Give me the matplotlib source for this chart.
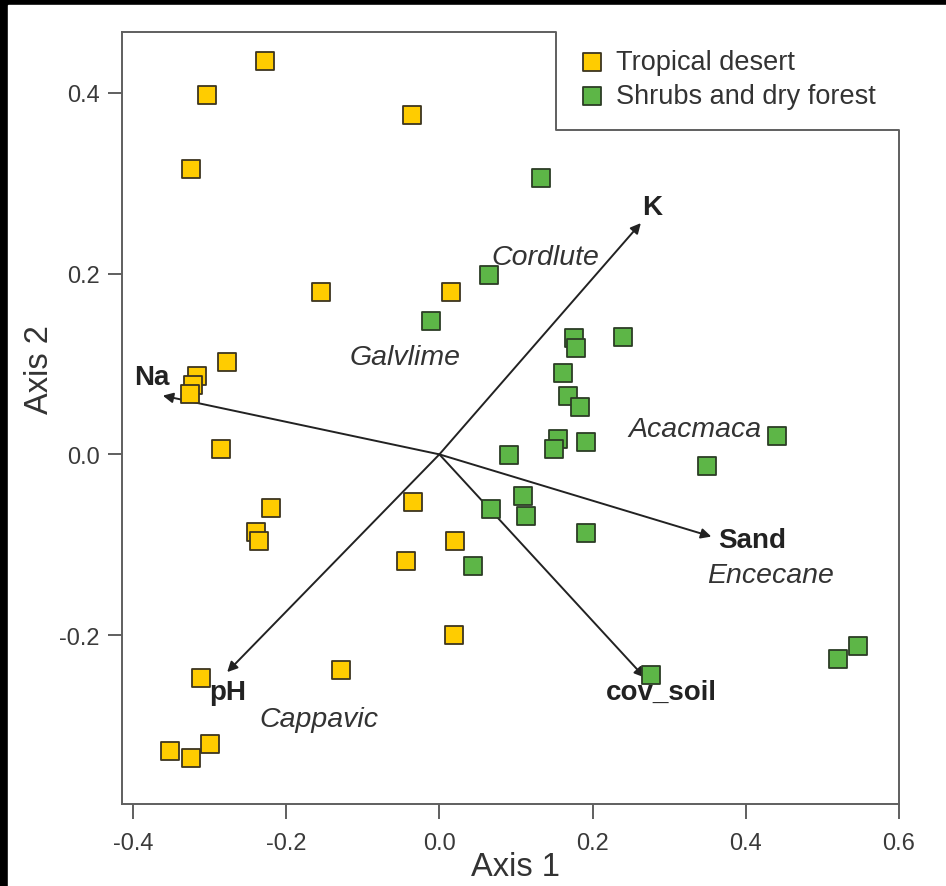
import matplotlib
matplotlib.use('Agg')
import matplotlib.pyplot as plt
from matplotlib.patches import Rectangle

plt.rcParams['font.family'] = ['Liberation Sans', 'DejaVu Sans']

# site scores
desert_x = [-0.228, -0.303, -0.036, -0.324, -0.154, 0.015, -0.277, -0.317, -0.321,
            -0.326, -0.285, -0.035, -0.220, -0.240, -0.236, -0.044, 0.021, 0.019,
            -0.128, -0.311, -0.351, -0.324, -0.300]
desert_y = [0.435, 0.398, 0.376, 0.316, 0.180, 0.180, 0.102, 0.087, 0.077,
            0.067, 0.006, -0.053, -0.059, -0.086, -0.096, -0.118, -0.096, -0.200,
            -0.239, -0.247, -0.328, -0.336, -0.321]

shrub_x = [0.133, 0.065, -0.011, 0.176, 0.179, 0.240, 0.161, 0.168, 0.184,
           0.155, 0.150, 0.192, 0.091, 0.441, 0.350, 0.109, 0.113, 0.068,
           0.192, 0.044, 0.276, 0.546, 0.521]
shrub_y = [0.306, 0.199, 0.148, 0.129, 0.118, 0.130, 0.090, 0.065, 0.052,
           0.017, 0.006, 0.014, -0.001, 0.020, -0.013, -0.046, -0.068, -0.061,
           -0.087, -0.124, -0.244, -0.212, -0.227]

# environmental vectors
vec_names = ['K', 'Na', 'Sand', 'cov_soil', 'pH']
vec_x = [0.263, -0.361, 0.355, 0.268, -0.277]
vec_y = [0.256, 0.065, -0.091, -0.247, -0.241]
vec_lab_x = [0.278, -0.376, 0.408, 0.290, -0.276]
vec_lab_y = [0.274, 0.086, -0.095, -0.263, -0.263]

# species names
spp_names = ['Cordlute', 'Galvlime', 'Acacmaca', 'Encecane', 'Cappavic']
spp_x = [0.139, -0.045, 0.334, 0.432, -0.157]
spp_y = [0.219, 0.1075, 0.028, -0.133, -0.2925]

xticks = [-0.4, -0.2, 0.0, 0.2, 0.4, 0.6]
yticks = [-0.2, 0.0, 0.2, 0.4]

xlim = (-0.4143, 0.6)
ylim = (-0.387, 0.4675)
# corner of the notch cut out for the legend
notch_x, notch_y = 0.1519, 0.359

fig = plt.figure(figsize=(9.46, 8.87), dpi=100, facecolor='black')
fig.patches.append(Rectangle((8/946, 0), 1 - 8/946, 1 - 6/887,
                             transform=fig.transFigure, color='white', zorder=-10))
ax = fig.add_axes([122/946, 1 - 805/887, 777/946, 772/887])
ax.set_facecolor('none')
ax.set_zorder(2)

ax.set_xlim(*xlim)
ax.set_ylim(*ylim)

frame_col = '#5f5f5f'
for s in ['top', 'right']:
    ax.spines[s].set_visible(False)
for s in ['left', 'bottom']:
    ax.spines[s].set_color(frame_col)
    ax.spines[s].set_linewidth(1.4)
ax.plot([xlim[0], notch_x, notch_x, xlim[1], xlim[1]],
        [ylim[1], ylim[1], notch_y, notch_y, ylim[0]],
        color=frame_col, lw=1.4, clip_on=False, zorder=1)

ax.set_xticks(xticks)
ax.set_yticks(yticks)
ax.set_xticklabels(['%.1f' % v for v in xticks])
ax.set_yticklabels(['%.1f' % v for v in yticks])
ax.tick_params(axis='x', length=11, width=1.2, color='#444444', pad=9,
               labelsize=17, labelcolor='#3a3a3a')
ax.tick_params(axis='y', length=10, width=1.2, color='#444444', pad=6,
               labelsize=17, labelcolor='#3a3a3a')

ax.set_xlabel('Axis 1', fontsize=23.5, color='#333333')
ax.set_ylabel('Axis 2', fontsize=23.5, color='#333333')
ax.xaxis.set_label_coords(0.507, -0.061)
ax.yaxis.set_label_coords(-0.086, 0.5635)

# arrows
for i in range(len(vec_names)):
    ax.annotate('', xy=(vec_x[i], vec_y[i]), xytext=(0, 0),
                arrowprops=dict(arrowstyle='-|>', color='#222222', lw=1.4,
                                mutation_scale=15, shrinkA=0, shrinkB=0),
                zorder=2)
    ax.text(vec_lab_x[i], vec_lab_y[i], vec_names[i], fontsize=20,
            fontweight='bold', color='#222222', ha='center', va='center', zorder=4)

for i in range(len(spp_names)):
    ax.text(spp_x[i], spp_y[i], spp_names[i], fontsize=20.5, style='italic',
            color='#333333', ha='center', va='center', zorder=4)

d = ax.scatter(desert_x, desert_y, s=165, marker='s', color='#FFCC00',
               edgecolor='#3d3520', linewidth=1.3, zorder=3)
g = ax.scatter(shrub_x, shrub_y, s=165, marker='s', color='#5DB647',
               edgecolor='#2c3d25', linewidth=1.3, zorder=3)

leg = ax.legend([d, g], ['Tropical desert', 'Shrubs and dry forest'],
                loc='upper left', bbox_to_anchor=(581/946, 1 - 50/887),
                bbox_transform=fig.transFigure, frameon=False, fontsize=19.5,
                borderpad=0, handlelength=0.8, handletextpad=0.5,
                labelspacing=0.3, borderaxespad=0)
for t in leg.get_texts():
    t.set_color('#333333')

fig.savefig('out.png', dpi=100, facecolor=fig.get_facecolor())
